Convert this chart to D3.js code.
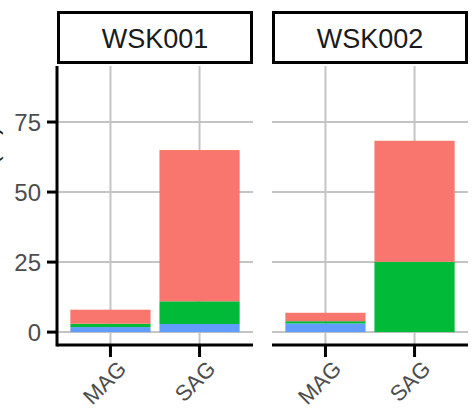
<!DOCTYPE html>
<html>
<head>
<meta charset="utf-8">
<script src="https://cdn.jsdelivr.net/npm/d3@7"></script>
<style>
  html, body { margin: 0; padding: 0; background: #fff; }
  svg { display: block; }
</style>
</head>
<body>
<div id="chart"></div>
<script>
// Faceted stacked bars: one panel per sample, MAG / SAG per panel
var samples    = ["WSK001", "WSK002"];
var categories = ["MAG", "SAG"];
var groups     = ["blue", "green", "red"];   // stacking order, bottom to top
var groupColors = ["#619CFF", "#00BA38", "#F8766D"];

// values per sample, per category (same order as categories)
var blueValues  = { WSK001: [1.8, 2.9], WSK002: [3.1, 0] };
var greenValues = { WSK001: [1.2, 8.1], WSK002: [0.8, 25.1] };
var redValues   = { WSK001: [5.0, 54.0], WSK002: [3.0, 43.2] };
var yTicks = [0, 25, 50, 75];
var yTitle = "Relative abundance (%)";

var totalW = 473, totalH = 408;
var panelTop = 66, panelBottom = 345;
var panelX = [57, 272], panelW = 196;

var svg = d3.select("#chart").append("svg")
    .attr("width", totalW)
    .attr("height", totalH);

var y = d3.scaleLinear()
    .domain([-4.6, 95])
    .range([panelBottom, panelTop]);

var series = { blue: blueValues, green: greenValues, red: redValues };

samples.forEach(function(s, pi) {
    // ggplot-like discrete expand: centers at 0.6 and 1.6 of 2.2 units
    var x = d3.scalePoint()
        .domain(categories)
        .range([panelW * 0.6 / 2.2, panelW * 1.6 / 2.2]);
    var cx = function(c) { return x(c); };
    var barW = 0.9 * panelW / 2.2;

    var g = svg.append("g")
        .attr("transform", "translate(" + panelX[pi] + ",0)");

    // --- Grid lines ---
    g.selectAll(".hgrid").data(yTicks).enter().append("line")
        .attr("x1", 0).attr("x2", panelW)
        .attr("y1", function(d) { return y(d); })
        .attr("y2", function(d) { return y(d); })
        .style("stroke", "#c4c4c4").style("stroke-width", 2);
    g.selectAll(".vgrid").data(categories).enter().append("line")
        .attr("x1", cx).attr("x2", cx)
        .attr("y1", panelTop).attr("y2", panelBottom)
        .style("stroke", "#c4c4c4").style("stroke-width", 2);

    // --- Stacked bars ---
    var rows = categories.map(function(c, ci) {
        var r = { cat: c };
        groups.forEach(function(k) { r[k] = series[k][s][ci]; });
        return r;
    });
    var stack = d3.stack().keys(groups)(rows);
    stack.forEach(function(layer, li) {
        g.selectAll(".bar" + li).data(layer).enter().append("rect")
            .attr("x", function(d) { return cx(d.data.cat) - barW / 2; })
            .attr("width", barW)
            .attr("y", function(d) { return y(d[1]); })
            .attr("height", function(d) { return Math.max(0, y(d[0]) - y(d[1])); })
            .style("fill", groupColors[li]);
    });

    // --- Bottom axis ---
    g.append("line")
        .attr("x1", 0).attr("x2", panelW)
        .attr("y1", panelBottom).attr("y2", panelBottom)
        .style("stroke", "#000").style("stroke-width", 3);
    g.selectAll(".xtick").data(categories).enter().append("line")
        .attr("x1", cx).attr("x2", cx)
        .attr("y1", panelBottom).attr("y2", panelBottom + 12)
        .style("stroke", "#000").style("stroke-width", 3);
    g.selectAll(".xlab").data(categories).enter().append("text")
        .attr("transform", function(d) {
            return "translate(" + (cx(d) + 6) + "," + (panelBottom + 14) + ") rotate(-45)";
        })
        .attr("text-anchor", "end")
        .attr("dy", "0.72em")
        .style("font-family", "Liberation Sans, Arial, sans-serif")
        .style("font-size", "22px")
        .style("fill", "#4d4d4d")
        .text(function(d) { return d; });

    // --- Strip ---
    g.append("rect")
        .attr("x", 1.5).attr("y", 12.5)
        .attr("width", panelW - 3).attr("height", 50)
        .style("fill", "#fff").style("stroke", "#000").style("stroke-width", 3);
    g.append("text")
        .attr("x", panelW / 2).attr("y", 38)
        .attr("text-anchor", "middle")
        .attr("dy", "0.36em")
        .style("font-family", "Liberation Sans, Arial, sans-serif")
        .style("font-size", "27px")
        .style("fill", "#1a1a1a")
        .text(s);

    // --- Left axis (first panel only) ---
    if (pi === 0) {
        g.append("line")
            .attr("x1", 0).attr("x2", 0)
            .attr("y1", panelTop).attr("y2", panelBottom + 1.5)
            .style("stroke", "#000").style("stroke-width", 3);
        g.selectAll(".ytick").data(yTicks).enter().append("line")
            .attr("x1", -10).attr("x2", 0)
            .attr("y1", function(d) { return y(d); })
            .attr("y2", function(d) { return y(d); })
            .style("stroke", "#000").style("stroke-width", 3);
        g.selectAll(".ylab").data(yTicks).enter().append("text")
            .attr("x", -16)
            .attr("y", function(d) { return y(d); })
            .attr("dy", "0.36em")
            .attr("text-anchor", "end")
            .style("font-family", "Liberation Sans, Arial, sans-serif")
            .style("font-size", "24px")
            .style("fill", "#4d4d4d")
            .text(function(d) { return d; });
    }
});

// --- Y-axis title (cut off at the left edge, only descenders show) ---
svg.append("text")
    .attr("transform", "translate(-2,255) rotate(-90)")
    .attr("text-anchor", "middle")
    .style("font-family", "Liberation Sans, Arial, sans-serif")
    .style("font-size", "24px")
    .style("fill", "#1a1a1a")
    .text(yTitle);
</script>
</body>
</html>
